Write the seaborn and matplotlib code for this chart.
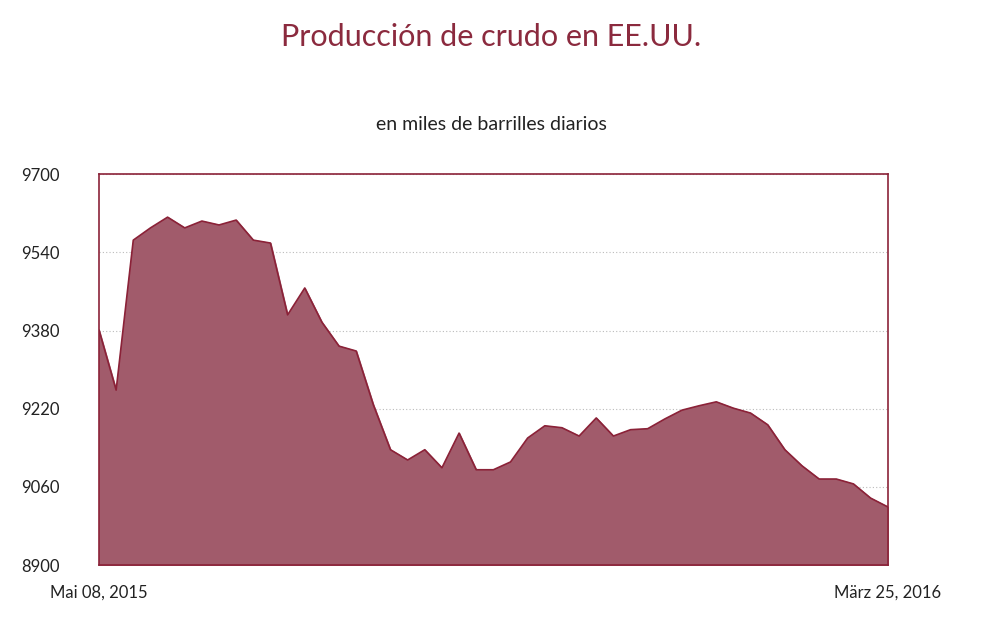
import matplotlib
matplotlib.use("Agg")
import matplotlib.pyplot as plt
import numpy as np
import pandas as pd
import seaborn as sns

# weekly production, thousand barrels per day
dates = pd.date_range("2015-05-08", "2016-03-25", freq="7D")
production = [9381, 9258, 9565, 9590, 9612, 9590, 9604, 9596, 9606, 9565,
              9559, 9412, 9467, 9397, 9348, 9338, 9228, 9136, 9115, 9136,
              9099, 9170, 9095, 9095, 9111, 9160, 9185, 9181, 9164, 9201,
              9164, 9177, 9179, 9199, 9217, 9226, 9234, 9221, 9211, 9187,
              9136, 9103, 9076, 9076, 9066, 9037, 9019]
y_ticks = [8900, 9060, 9220, 9380, 9540, 9700]
x_labels = ["Mai 08, 2015", "März 25, 2016"]

sns.set_theme(style="white")
plt.rcParams["font.family"] = ["Lato", "DejaVu Sans"]

dark = "#8b2238"
fig = plt.figure(figsize=(9.82, 6.22), dpi=100)
ax = fig.add_axes([0.1008, 0.0916, 0.8032, 0.6284])

idx = np.arange(len(production))
df = pd.DataFrame({"i": idx, "v": production})
sns.lineplot(data=df, x="i", y="v", ax=ax, color=dark, linewidth=1.2)
ax.fill_between(idx, production, 8900, color="#a15b6b", zorder=1)

ax.set_xlim(0, len(production) - 1)
ax.set_ylim(8900, 9700)
ax.set_yticks(y_ticks)
ax.set_yticklabels([str(t) for t in y_ticks], fontsize=12, color="#222222")
ax.tick_params(axis="y", pad=28, length=0)
ax.set_xticks([0, len(production) - 1])
ax.set_xticklabels(x_labels, fontsize=12, color="#222222")
ax.tick_params(axis="x", pad=14, length=0)
ax.set_xlabel("")
ax.set_ylabel("")
ax.grid(axis="y", linestyle=(0, (1, 2)), color="#bbbbbb", linewidth=0.8, zorder=0)
ax.set_axisbelow(True)
for s in ax.spines.values():
    s.set_color(dark)
    s.set_linewidth(1.2)

fig.text(0.5, 0.94, "Producción de crudo en EE.UU.", ha="center", va="center",
         fontsize=22, color="#8b2a3e")
fig.text(0.5, 0.80, "en miles de barrilles diarios", ha="center", va="center",
         fontsize=14, color="#222222")

fig.savefig("out.png", dpi=100)
